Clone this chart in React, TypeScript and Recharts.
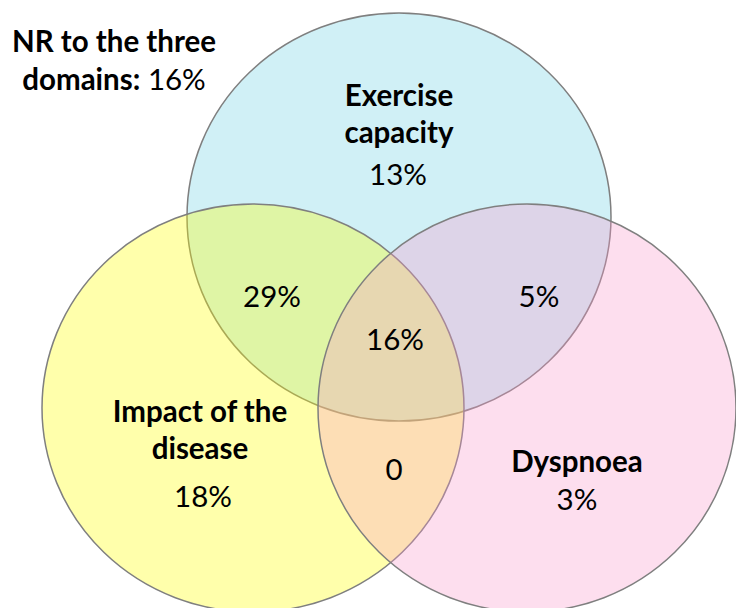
import { ScatterChart, Scatter, XAxis, YAxis } from "recharts";

// three sets: top, left, right (drawn in this order)
const SET_NAMES = ["Exercise capacity", "Impact of the disease", "Dyspnoea"];
const SET_CX = [399, 253, 527];
const SET_CY = [217, 408, 408];
const SET_RX = [212, 211, 209];
const SET_RY = [204, 204, 204];
const SET_FILL = ["#d0f0f6", "#ffff00", "#f898ca"];
const SET_OPACITY = [1, 0.33, 0.32];

// text lines placed in the diagram (x centre, y baseline)
const LABEL_TEXT = [
  "Exercise", "capacity", "13%",
  "29%", "5%", "16%", "0",
  "Impact of the", "disease", "18%",
  "Dyspnoea", "3%",
];
const LABEL_X = [399, 399, 398, 272, 539, 395, 394, 200, 200, 203, 577, 577];
const LABEL_Y = [106, 143, 185, 307, 307, 350, 480, 422, 459, 507, 472, 510];
const LABEL_BOLD = [true, true, false, false, false, false, false, true, true, false, true, false];

const NR_LINES = ["NR to the three", "domains:"];
const NR_VALUE = "16%";

const W = 736;
const H = 608;
const FONT = "Lato, 'Noto Sans', sans-serif";
const FONT_SIZE = 29.5;

const sets = SET_NAMES.map((name, i) => ({
  name, x: SET_CX[i], y: SET_CY[i], rx: SET_RX[i], ry: SET_RY[i],
  fill: SET_FILL[i], opacity: SET_OPACITY[i],
}));

const labels = LABEL_TEXT.map((text, i) => ({
  text, x: LABEL_X[i], y: LABEL_Y[i], bold: LABEL_BOLD[i],
}));

const nr = [{ x: 114, y: 52 }];

// plot area maps 1 data unit to 1 px, so radii scale the same way
const scale = W / 736;

function Ellipse(props: any) {
  const { cx, cy, payload } = props;
  return (
    <ellipse
      cx={cx} cy={cy}
      rx={payload.rx * scale} ry={payload.ry * scale}
      fill={payload.fill} fillOpacity={payload.opacity}
      stroke="#7f7f7f" strokeWidth={1.5}
    />
  );
}

function Label(props: any) {
  const { cx, cy, payload } = props;
  return (
    <text x={cx} y={cy} textAnchor="middle" fontFamily={FONT} fontSize={FONT_SIZE}
      fontWeight={payload.bold ? 700 : 400} fill="#000">
      {payload.text}
    </text>
  );
}

function NrLabel(props: any) {
  const { cx, cy } = props;
  return (
    <text x={cx} y={cy} textAnchor="middle" fontFamily={FONT} fontSize={FONT_SIZE} fill="#000">
      <tspan x={cx} fontWeight={700}>{NR_LINES[0]}</tspan>
      <tspan x={cx} dy={38}>
        <tspan fontWeight={700}>{NR_LINES[1]}</tspan> {NR_VALUE}
      </tspan>
    </text>
  );
}

export default function App() {
  return (
    <div style={{ position: "absolute", left: 0, top: 0, width: W, height: H, background: "#fff" }}>
      <ScatterChart width={W} height={H} margin={{ top: 0, right: 0, bottom: 0, left: 0 }}>
        <XAxis type="number" dataKey="x" domain={[0, 736]} hide allowDataOverflow />
        <YAxis type="number" dataKey="y" domain={[0, 608]} reversed hide allowDataOverflow />
        <Scatter data={sets} shape={<Ellipse />} isAnimationActive={false} />
        <Scatter data={labels} shape={<Label />} isAnimationActive={false} />
        <Scatter data={nr} shape={<NrLabel />} isAnimationActive={false} />
      </ScatterChart>
    </div>
  );
}
